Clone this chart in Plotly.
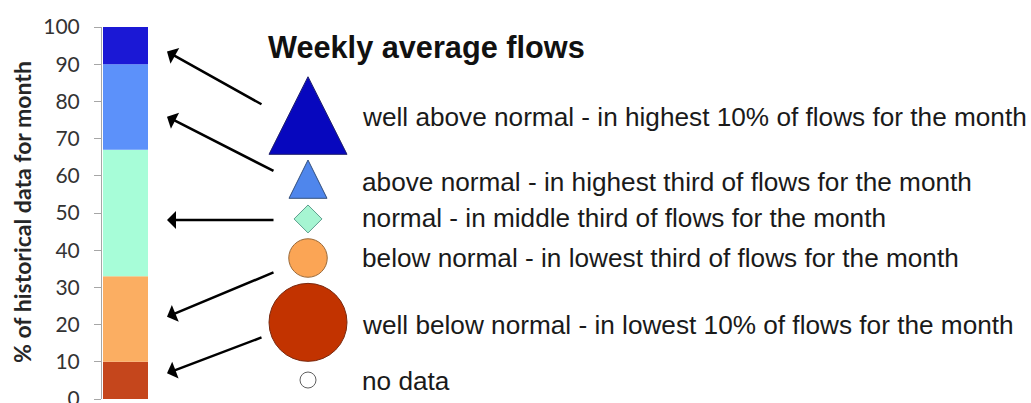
import plotly.graph_objects as go

# ---------------- data ----------------
# percentile bands of historical data for the month (colour bar)
band_names = ["well below normal", "below normal", "normal", "above normal", "well above normal"]
band_lower = [0, 10, 33, 67, 90]
band_upper = [10, 33, 67, 90, 100]
band_colors = ["#C5461C", "#FBAE62", "#A7FDD8", "#5C91FA", "#1B18D5"]

# legend rows (top to bottom)
legend_labels = [
    "well above normal - in highest 10% of flows for the month",
    "above normal - in highest third of flows for the month",
    "normal - in middle third of flows for the month",
    "below normal - in lowest third of flows for the month",
    "well below normal - in lowest 10% of flows for the month",
    "no data",
]
title_text = "Weekly average flows"
axis_title = "% of historical data for month"
tick_values = [0, 10, 20, 30, 40, 50, 60, 70, 80, 90, 100]

# ---------------- layout constants ----------------
W, H = 1031, 403
M_L, M_R, M_T, M_B = 102, 0, 27, 4
plot_w = W - M_L - M_R
plot_h = H - M_T - M_B
k = 100.0 / plot_h  # y-data units per pixel

# legend row positions on the % scale
label_y = [75.8, 58.3, 48.7, 37.9, 19.9, 4.85]
symbol_y = [76.2, 59.1, 48.4, 37.9, 20.6, 5.1]
title_y = 94.6
symbol_x = 308
label_x = 360
title_x = 266

# arrows: head targets on the colour bar (% scale) and tails near symbols
arrow_head_y = [93.4, 75.9, 48.1, 22.1, 6.9]
arrow_head_x = 167
arrow_tail_x = [263, 275, 275, 275, 263]
arrow_tail_y = [79.0, 61.1, 48.1, 34.2, 16.7]

# symbol styles
tri_fill = ["#0707BE", "#4F86EC"]
tri_line = ["#22226E", "#34507E"]
tri_w = [78, 38]
tri_h = [77.6, 38.3]
mk_symbol = ["diamond", "circle", "circle", "circle"]
mk_size = [21.5, 38.5, 78, 16]
mk_fill = ["#A6F5D2", "#FBA555", "#C23300", "#FFFFFF"]
mk_line = ["#5F9F8F", "#9A6A3A", "#7A2A10", "#606060"]

fig = go.Figure()

# colour bar
fig.add_trace(go.Bar(
    x=[0] * len(band_names),
    y=[u - l for l, u in zip(band_lower, band_upper)],
    base=band_lower,
    width=45 / 47,
    marker=dict(color=band_colors, line=dict(width=0)),
    name="bands",
    hovertext=band_names,
    showlegend=False,
    xaxis="x", yaxis="y",
))

# triangles drawn as filled polygons (so height/width ratio matches)
for i in range(2):
    cy = symbol_y[i]
    hw = tri_w[i] / 2
    hh = tri_h[i] / 2 * k
    fig.add_trace(go.Scatter(
        x=[symbol_x - hw, symbol_x + hw, symbol_x, symbol_x - hw],
        y=[cy - hh, cy - hh, cy + hh, cy - hh],
        mode="lines", fill="toself",
        fillcolor=tri_fill[i],
        line=dict(color=tri_line[i], width=1),
        showlegend=False, hoverinfo="skip",
        xaxis="x2", yaxis="y",
    ))

# remaining symbols
fig.add_trace(go.Scatter(
    x=[symbol_x] * 4,
    y=symbol_y[2:],
    mode="markers",
    marker=dict(symbol=mk_symbol, size=mk_size, color=mk_fill, opacity=1,
                line=dict(color=mk_line, width=1)),
    showlegend=False, hoverinfo="skip",
    xaxis="x2", yaxis="y",
))

annotations = []
# legend labels
for lab, yy in zip(legend_labels, label_y):
    annotations.append(dict(
        x=label_x, y=yy, xref="x2", yref="y", text=lab, showarrow=False,
        xanchor="left", yanchor="middle",
        font=dict(family="Liberation Sans, Arial", size=26.2, color="#1A1A1A"),
    ))
# title
annotations.append(dict(
    x=title_x, y=title_y, xref="x2", yref="y", text="<b>" + title_text + "</b>",
    showarrow=False, xanchor="left", yanchor="middle",
    font=dict(family="Liberation Sans, Arial", size=30.7, color="#111111"),
))
# arrows
for hy, tx, ty in zip(arrow_head_y, arrow_tail_x, arrow_tail_y):
    annotations.append(dict(
        x=arrow_head_x, y=hy, xref="x2", yref="y",
        ax=tx, ay=ty, axref="x2", ayref="y",
        text="", showarrow=True, arrowhead=1, arrowsize=1.2, arrowwidth=2.5,
        arrowcolor="#000000", standoff=0, startstandoff=0,
    ))
# y-axis title
annotations.append(dict(
    x=(21.5 - M_L) / plot_w, y=(399 - 212.5) / plot_h, xref="paper", yref="paper",
    text="<b>" + axis_title + "</b>", textangle=-90, showarrow=False,
    xanchor="center", yanchor="middle",
    font=dict(family="Lato", size=23, color="#262626"),
))

fig.update_layout(
    width=W, height=H,
    margin=dict(l=M_L, r=M_R, t=M_T, b=M_B, pad=0, autoexpand=False),
    paper_bgcolor="white", plot_bgcolor="rgba(0,0,0,0)",
    barmode="overlay",
    showlegend=False,
    hovermode=False,
    xaxis=dict(domain=[0, 47 / plot_w], range=[-0.5, 0.5], visible=False,
               fixedrange=True, automargin=False),
    xaxis2=dict(domain=[0, 1], range=[M_L, W], anchor="y", visible=False,
                fixedrange=True, automargin=False),
    yaxis=dict(
        range=[0, 100], tickvals=tick_values, ticks="outside", ticklen=7,
        tickcolor="#A6A6A6", showline=True, linecolor="#A6A6A6", linewidth=1,
        showgrid=False, zeroline=False,
        tickfont=dict(family="Lato", size=21, color="#333333"),
        ticklabelstandoff=10, ticklabeloverflow="allow",
        automargin=False, fixedrange=True,
    ),
    annotations=annotations,
)

fig.write_html(
    "out.html",
    config={"displayModeBar": False, "staticPlot": True},
    post_script="document.body.style.margin='0';document.body.style.overflow='hidden';",
)
